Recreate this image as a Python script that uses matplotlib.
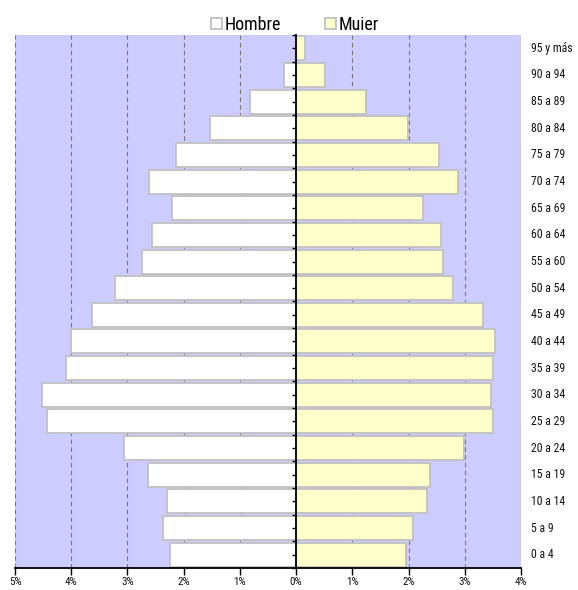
import matplotlib
matplotlib.use("Agg")
import matplotlib.pyplot as plt
import matplotlib.font_manager as fm
from matplotlib.ticker import FixedLocator, FuncFormatter
import numpy as np

# age groups, bottom to top
groups = ["0 a 4", "5 a 9", "10 a 14", "15 a 19", "20 a 24", "25 a 29", "30 a 34",
          "35 a 39", "40 a 44", "45 a 49", "50 a 54", "55 a 60", "60 a 64", "65 a 69",
          "70 a 74", "75 a 79", "80 a 84", "85 a 89", "90 a 94", "95 y más"]

# percent of population
hombre = [2.25, 2.36, 2.29, 2.63, 3.06, 4.43, 4.52, 4.10, 4.01, 3.63,
          3.23, 2.75, 2.56, 2.20, 2.61, 2.14, 1.53, 0.82, 0.22, 0.0]
mujer = [1.96, 2.08, 2.33, 2.39, 2.99, 3.50, 3.46, 3.50, 3.53, 3.32,
         2.79, 2.61, 2.57, 2.25, 2.88, 2.54, 1.99, 1.25, 0.51, 0.15]

xticks = [-5, -4, -3, -2, -1, 0, 1, 2, 3, 4]

# look for a narrow font like the original (Arial Narrow style)
narrow = None
for f in fm.fontManager.ttflist:
    fn = f.fname.lower()
    if ('narrow' in fn or 'condensed' in fn) and 'bold' not in fn \
            and 'italic' not in fn and 'oblique' not in fn and 'mono' not in fn:
        narrow = f.fname
        if 'liberation' in fn:
            break
if narrow:
    fp_small = fm.FontProperties(fname=narrow, size=8.5)
    fp_tick = fm.FontProperties(fname=narrow, size=8)
    fp_leg = fm.FontProperties(fname=narrow, size=13)
else:
    fp_small = fm.FontProperties(family='Liberation Sans', size=7.5)
    fp_tick = fm.FontProperties(family='Liberation Sans', size=7)
    fp_leg = fm.FontProperties(family='Liberation Sans', size=12)

fig = plt.figure(figsize=(5.78, 5.90), dpi=100)
ax = fig.add_axes([15 / 578, 22 / 590, 506 / 578, 533 / 590])
ax.set_facecolor('#CCCCFF')
ax.set_axisbelow(False)

y = np.arange(len(groups))
bh = ax.barh(y, [-v for v in hombre], height=0.9, color='white', edgecolor='#C0C0C0',
             linewidth=1.3, zorder=2, label='Hombre')
bm = ax.barh(y, mujer, height=0.9, color='#FFFFCC', edgecolor='#C0C0C0',
             linewidth=1.3, zorder=2, label='Muier')

ax.set_xlim(-5, 4)
ax.set_ylim(-0.5, len(groups) - 0.5)

# dashed vertical grid
for xv in xticks:
    ax.axvline(xv, color='#777777', linestyle=(0, (4, 3)), linewidth=0.8, zorder=1)

ax.set_xticks(xticks)
ax.xaxis.set_major_formatter(FuncFormatter(lambda v, p: "%d%%" % abs(round(v))))
ax.tick_params(axis='x', direction='out', length=5, width=1, color='black',
               labelcolor='#111111', pad=1.5)
for lab in ax.get_xticklabels():
    lab.set_fontproperties(fp_tick)

# centre spine with ticks
ax.spines['left'].set_position(('data', 0))
ax.spines['left'].set_linewidth(1.3)
ax.spines['bottom'].set_linewidth(1.3)
ax.spines['right'].set_visible(False)
ax.spines['top'].set_visible(False)
ax.yaxis.set_major_locator(FixedLocator(np.arange(len(groups) + 1) - 0.5))
ax.yaxis.set_minor_locator(FixedLocator(y))
ax.tick_params(axis='y', which='both', direction='out', length=3, width=1,
               labelleft=False)

# age labels on the right
for yi, g in zip(y, groups):
    ax.text(1.0 + 10 / 506, yi, g, transform=ax.get_yaxis_transform(),
            ha='left', va='center', fontproperties=fp_small, color='#111111')

fig.legend(handles=[bh, bm], loc='center', bbox_to_anchor=(295 / 578, 1 - 25 / 590),
           ncol=2, frameon=False, prop=fp_leg, handlelength=0.6, handleheight=0.6,
           handletextpad=0.15, columnspacing=2.4, borderpad=0)

fig.savefig("out.png", dpi=100)
